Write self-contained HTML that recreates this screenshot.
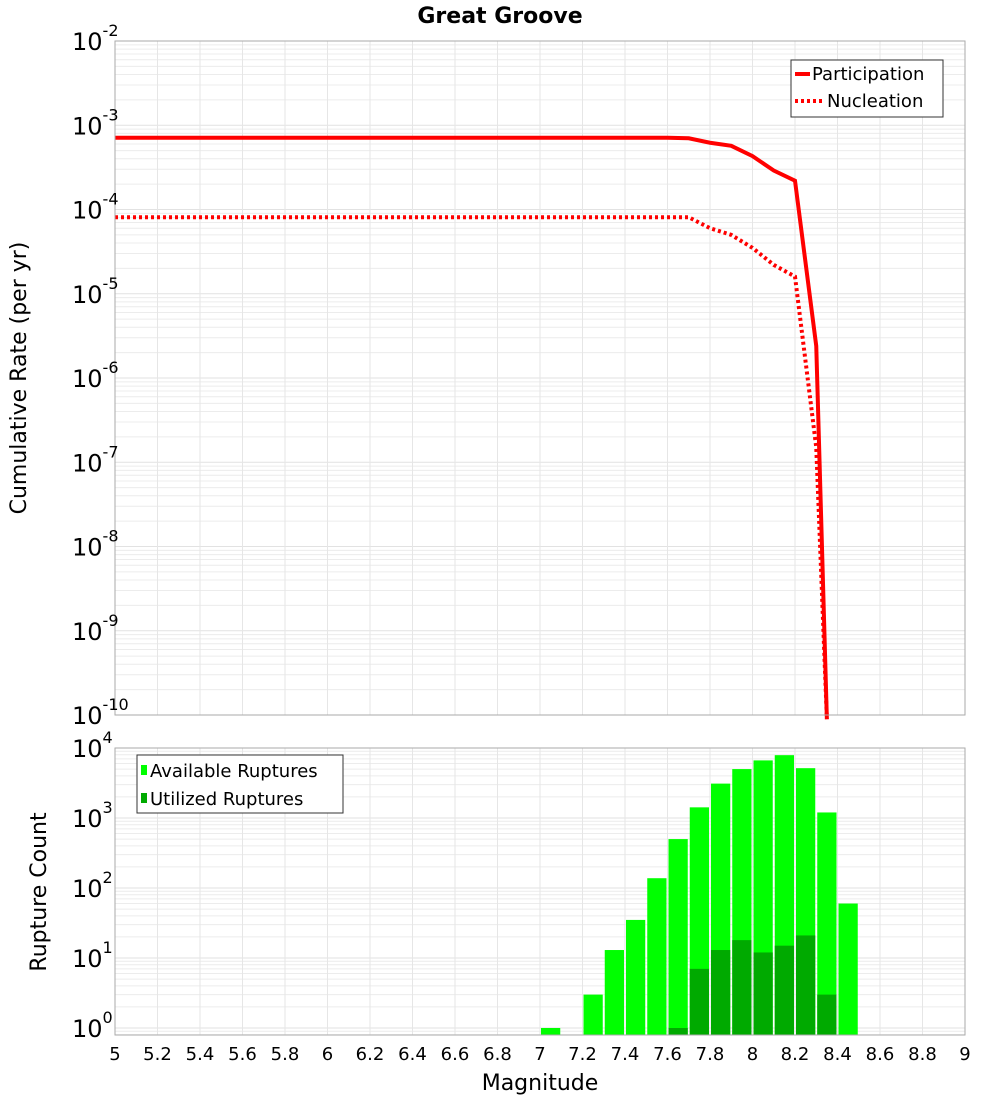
<!DOCTYPE html>
<html><head><meta charset="utf-8"><style>
html,body{margin:0;padding:0;background:#fff;}
svg{display:block;font-family:"DejaVu Sans","Liberation Sans",sans-serif;}
</style></head><body>
<svg id="c" width="1000" height="1100"></svg>
<script>
const mags = [5.0,7.6,7.7,7.8,7.9,8.0,8.1,8.2,8.3,8.35];
const participation = [7.1e-4,7.1e-4,7.0e-4,6.2e-4,5.7e-4,4.3e-4,2.9e-4,2.2e-4,2.4e-6,1e-11];
const nucleation = [8.1e-5,8.1e-5,8.1e-5,6.0e-5,5.0e-5,3.5e-5,2.2e-5,1.6e-5,1.5e-7,1e-11];
const binStarts = [7.0,7.2,7.3,7.4,7.5,7.6,7.7,7.8,7.9,8.0,8.1,8.2,8.3,8.4];
const available = [1,3,13,35,138,500,1420,3100,5000,6650,7900,5150,1200,60];
const utilBins = [7.6,7.7,7.8,7.9,8.0,8.1,8.2,8.3];
const utilized = [1,7,13,18,12,15,21,3];
const xTicks = ["5","5.2","5.4","5.6","5.8","6","6.2","6.4","6.6","6.8","7","7.2","7.4","7.6","7.8","8","8.2","8.4","8.6","8.8","9"];
const topExps = [-2,-3,-4,-5,-6,-7,-8,-9,-10];
const botExps = [4,3,2,1,0];

const NS="http://www.w3.org/2000/svg";
const svg=document.getElementById('c');
function el(t,a,p){const e=document.createElementNS(NS,t);for(const k in a)e.setAttribute(k,a[k]);(p||svg).appendChild(e);return e;}
const L=115,R=965;
const x=m=>L+(m-5)/4*(R-L);
const T1=41,B1=715;
const y1=v=>{let l=Math.log10(v);if(l<-10.05)l=-10.05;return T1+(-2-l)/8*(B1-T1);};
const T2=748,B2=1035;
const y2=v=>1028-Math.log10(v)*70;

// grids
function grid(top,bot,yf,lo,hi,name){
  const g=el('g',{});
  for(let d=lo;d<=hi;d++){for(let k=1;k<10;k++){const yy=yf(k*Math.pow(10,d));if(yy<top-0.5||yy>bot+0.5)continue;
    el('line',{x1:L,x2:R,y1:yy,y2:yy,stroke:k==1?'#e2e2e2':'#ececec','stroke-width':1},g);}}
  xTicks.forEach(t=>{const xx=x(+t);el('line',{x1:xx,x2:xx,y1:top,y2:bot,stroke:'#e6e6e6','stroke-width':1},g);});
}
grid(T1,B1,y1,-11,-2,'top-grid');
grid(T2,B2,y2,-1,4,'bottom-grid');

// top lines
function line(vals,dash,name){
  const p=el('path',{d:mags.map((m,i)=>(i?'L':'M')+x(m)+','+y1(vals[i])).join(''),fill:'none',stroke:'#ff0000','stroke-width':4,'stroke-dasharray':dash||'none'});
  
}
const clip=el('clipPath',{id:'cp'});el('rect',{x:L,y:T1,width:R-L,height:B1-T1},clip);
line(participation,null,'participation-line');
line(nucleation,'3,3','nucleation-line');

// bars
const bw=(x(5.1)-x(5))-2;
available.forEach((v,i)=>{const r=el('rect',{x:x(binStarts[i])+1,y:y2(v),width:bw,height:B2-y2(v),fill:'#00ff00'});
  });
utilized.forEach((v,i)=>{const r=el('rect',{x:x(utilBins[i])+1,y:y2(v),width:bw,height:B2-y2(v),fill:'#00aa00'});
  });

// frames
el('rect',{x:L,y:T1,width:R-L,height:B1-T1,fill:'none',stroke:'#aaa','stroke-width':1});
el('rect',{x:L,y:T2,width:R-L,height:B2-T2,fill:'none',stroke:'#aaa','stroke-width':1});

// y tick labels
function ylab(e,yy,name){const t=el('text',{x:103,y:yy+9,'text-anchor':'end','font-size':24,fill:'#000'});
  
  const a=el('tspan',{},t);a.textContent='10';const b=el('tspan',{dy:-14,'font-size':16},t);b.textContent=String(e);
  const w=String(e).length*10; t.setAttribute('x',70+24+ (e<0?0:0)); t.setAttribute('text-anchor','start');t.setAttribute('x',72);}
topExps.forEach(e=>ylab(e,y1(Math.pow(10,e)),'y-tick-label'));
botExps.forEach(e=>ylab(e,y2(Math.pow(10,e)),'y-tick-label-bottom'));

// x tick labels
xTicks.forEach(t=>{const tx=el('text',{x:x(+t),y:1060,'text-anchor':'middle','font-size':18,fill:'#000'});tx.textContent=t;
  });

// titles
let t=el('text',{x:500,y:23,'text-anchor':'middle','font-size':22,'font-weight':'bold'});t.textContent='Great Groove';

t=el('text',{x:540,y:1090,'text-anchor':'middle','font-size':22});t.textContent='Magnitude';

t=el('text',{x:0,y:0,'text-anchor':'middle','font-size':22,transform:'translate(26,378) rotate(-90)'});t.textContent='Cumulative Rate (per yr)';

t=el('text',{x:0,y:0,'text-anchor':'middle','font-size':22,transform:'translate(46,892) rotate(-90)'});t.textContent='Rupture Count';


// legends
let lg=el('g',{});
el('rect',{x:791,y:60,width:152,height:57,fill:'#fff',stroke:'#333','stroke-width':1},lg);
el('line',{x1:795,x2:810,y1:74,y2:74,stroke:'#f00','stroke-width':4},lg);
el('line',{x1:795,x2:822,y1:101,y2:101,stroke:'#f00','stroke-width':4,'stroke-dasharray':'3,3'},lg);
t=el('text',{x:812,y:80,'font-size':18},lg);t.textContent='Participation';
t=el('text',{x:827,y:107,'font-size':18},lg);t.textContent='Nucleation';
lg=el('g',{});
el('rect',{x:137,y:755,width:206,height:58,fill:'#fff',stroke:'#333','stroke-width':1},lg);
el('rect',{x:141,y:765,width:6,height:10,fill:'#00ff00'},lg);
el('rect',{x:141,y:793,width:6,height:10,fill:'#00aa00'},lg);
t=el('text',{x:150,y:777,'font-size':18},lg);t.textContent='Available Ruptures';
t=el('text',{x:150,y:805,'font-size':18},lg);t.textContent='Utilized Ruptures';
</script>
</body></html>
